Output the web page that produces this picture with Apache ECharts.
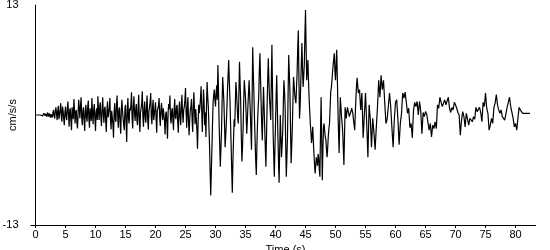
<!DOCTYPE html>
<html>
<head>
<meta charset="utf-8">
<script src="https://cdn.jsdelivr.net/npm/echarts@6/dist/echarts.min.js"></script>
<style>html,body{margin:0;padding:0;background:#fff}#c{width:550px;height:250px}</style>
</head>
<body>
<div id="c"></div>
<script>
// Part A: 0 - 54.9 s, sampled every 0.1 s (cm/s/s), one row per 5 s
const DT_A = 0.1;
const accelA = [
  0,0, 0,0, 0,0, 0,0, 0,0.05, 0.1,-0.05, -0.1,0.1, 0.2,0.0, -0.1,0.15, 0.1,-0.2,
  0.3,0.1, -0.2,0.2, 0.4,-0.3, 0.1,0.3, -0.3,0.2, 0.6,-0.1, -0.4,0.5, 0.9,0.2, -0.6,0.4, 1.1,-0.5,
  -0.3,0.6, 1.4,-0.2, -0.8,1.0, 0.5,-0.4, -1.2,0.3,

  1.0,-0.2, -0.6,0.7, 1.6,0.1, -1.4,0.5, 0.8,-0.7, -1.8,0.9, 0.4,-0.5, 1.9,0.6, -1.0,0.3, 0.6,-0.9,
  -1.6,0.2, 1.8,0.8, -0.4,1.1, 2.1,-0.3, -1.2,0.5, 0.9,-0.6, -1.9,0.4, 1.2,-0.2, -0.8,0.9, 1.7,-0.5,
  -1.5,0.8, 0.6,-0.7, 2.0,0.3, -1.1,0.6, 1.3,-0.4,

  -1.9,0.3, 0.8,-0.6, 2.2,0.5, -0.6,0.9, 1.5,-0.4, -1.3,0.6, 2.1,0.2, -0.9,0.7, 1.0,-0.8, -2.0,0.4,
  1.6,-0.3, -0.5,0.8, 2.0,-0.6, -1.7,0.5, 0.7,-1.1, -2.7,0.2, 1.4,-0.5, -0.8,1.2, 2.3,-0.2, -1.5,0.6,
  0.9,-0.9, -2.2,0.4, 1.8,0.5, -0.4,-1.2, -1.8,0.7,

  1.2,-0.9, -3.2,0.6, 2.0,-0.4, -1.0,0.8, 0.5,1.2, 2.7,-0.3, -1.6,0.9, 2.2,0.4, -0.7,0.6, 1.3,-0.6,
  -1.2,0.8, 2.4,-0.5, -2.0,0.3, 0.8,1.4, 2.8,-0.2, -1.4,0.7, 1.6,-0.4, -0.9,1.0, 2.3,-0.5, -1.7,0.4,
  0.6,1.5, 2.6,-0.3, -1.1,0.9, 1.8,-0.6, -0.8,0.7,

  1.5,-0.4, -2.1,0.5, 0.7,1.1, 2.0,-0.3, -1.3,0.6, 1.4,0.2, -0.6,0.8, 1.0,-0.7, -2.3,0.1, 0.4,-1.0,
  -2.8,0.3, 1.3,0.7, 2.3,-0.4, -1.0,0.5, 0.8,-0.6, -1.8,0.6, 1.9,-0.2, -0.5,0.9, 1.2,-0.8, -2.1,0.4,
  1.6,-0.3, -1.2,1.0, 2.4,0.2, -0.9,0.6, 1.0,1.8,

  3.2,0.4, -1.5,0.8, 2.1,-0.7, -2.4,-0.5, 0.6,1.0, 1.9,-0.6, -2.0,0.9, 2.7,0.5, -1.1,0.7, -0.4,-1.8,
  -4.0,-1.0, 1.2,0.2, 0.9,2.0, 3.4,0.6, -2.0,0.4, 3.0,1.5, -1.2,0.3, -2.6,1.0, 3.9,2.2, 1.0,-1.2,
  -3.5,-6.5, -9.5,-6.8, -4.0,-1.0, 1.5,2.4, 3.0,1.8,

  1.0,2.6, 3.5,1.8, 5.9,3.0, -1.0,-3.5, -6.1,-4.0, -2.0,1.5, 4.5,3.0, 1.5,-1.0, -3.8,-2.5, -1.0,0.8,
  3.0,4.8, 6.5,4.0, 2.0,-0.8, -3.5,-6.5, -9.2,-5.5, -3.0,-0.5, -1.4,1.2, 3.9,2.8, 1.2,-0.3, -1.0,2.5,
  6.3,3.8, 1.5,-2.5, -5.5,-3.8, -1.5,1.6, 4.1,3.0,

  2.0,0.2, -2.2,-0.8, 1.0,2.6, 4.1,2.2, 0.5,-2.0, -4.1,1.8, 8.0,5.0, 2.5,-0.5, -3.0,-5.4, -7.1,-3.6,
  -1.0,0.8, 2.1,5.2, 7.3,4.4, 1.5,-1.2, -3.0,0.5, 3.3,0.9, -1.5,-4.0, -6.1,-2.5, 1.0,4.2, 6.7,4.0,
  2.0,0.8, -0.6,4.0, 8.3,3.0, -2.0,-4.8, -7.3,-4.0,

  -1.0,2.0, 4.7,1.0, -2.5,-5.5, -8.0,-4.0, 0.0,-2.5, -5.0,-3.5, -2.0,1.2, 4.1,2.8, 1.0,-3.5, -7.3,-5.0,
  -2.5,2.5, 7.1,5.0, 3.0,-1.5, -5.7,-3.8, -1.5,1.5, 4.5,3.6, 2.5,1.8, 1.4,3.2, 5.0,7.8, 10.0,4.5,
  -0.4,1.0, 3.5,6.0, 8.5,5.5, 3.3,4.5, 6.0,9.5,

  12.4,8.0, 4.1,5.5, 6.5,4.0, 2.0,0.5, -1.0,-2.0, -3.3,-2.5, -1.4,-3.0, -4.5,-5.8, -6.9,-6.0, -5.0,-5.5,
  -6.0,-4.6, -5.0,-6.5, -7.3,-2.0, 2.1,-3.0, -7.7,-4.0, -1.4,-1.0, -2.0,-2.6, -3.0,-4.2, -5.0,-3.8, -2.5,-1.6,
  -1.0,0.8, 2.7,3.2, 4.0,5.0, 5.9,6.6, 7.3,5.2,

  4.1,6.0, 7.7,4.5, 1.0,-2.0, -4.5,-1.0, 2.1,1.0, -0.2,-1.0, -2.0,-4.0, -5.9,-2.5, 0.9,0.3, -0.4,0.4,
  0.9,0.5, 0.2,-0.2, -0.4,0.0, 0.5,0.8, 0.9,0.1, -0.6,-1.2, -1.8,0.2, 2.0,3.4, 4.4,3.5, 2.6,2.8,
  3.0,1.8, 0.6,1.6, 2.6,0.0, -2.7,-1.5, 0.0,1.2
];
// Part B: 55.0 - 82.4 s, sampled every 0.2 s (cm/s/s), one row per 5 s
const T0_B = 55.0;
const DT_B = 0.2;
const accelB = [
  2.6,-1.0,-5.0,1.2,-0.5, -3.8,-0.4,-2.0,-4.1,-1.4, 1.0,4.1,2.1,4.7,3.0, 4.1,1.5,-1.0,-0.5,1.0, 2.6,1.0,-1.5,-3.8,-0.5,
  1.5,1.8,-0.5,-3.5,-1.0, 0.2,2.6,2.0,2.7,1.5, 0.2,0.8,-1.5,-1.0,-2.7, 0.6,1.5,1.0,1.6,0.0, 1.6,0.5,-2.2,0.3,-0.2,
  0.4,0.1,0.0,-1.8,-1.0, -2.6,-1.2,-1.6,-0.8,-1.6, 1.2,0.8,2.1,1.5,1.0, 1.4,1.8,1.2,1.4,2.1, 0.8,0.3,0.9,0.6,1.5,
  1.2,0.8,0.3,0.0,-2.4, -0.6,0.4,-0.2,-1.4,0.2, -0.5,-1.2,-0.4,-0.6,-0.8, -0.2,-0.5,0.9,0.4,0.4, 0.9,0.3,-0.8,1.5,1.0,
  2.6,0.8,0.2,-1.8,-1.2, -0.4,-1.0,0.9,1.4,2.4, 1.2,0.6,0.2,0.6,-0.2, -0.3,-0.6,-0.8,0.9,1.5, 2.1,1.0,0.3,-0.4,-1.4,
  -1.0,-1.8,-0.4,0.9,0.6, 0.4,0.2,0.3,0.2,0.2, 0.2,0.3,0.2
];
// Axis tick labels
const xTicks = [0,5,10,15,20,25,30,35,40,45,50,55,60,65,70,75,80];
const yTicks = [-13, 13];
const X_MAX = 83.33;

const seriesData = accelA.map((v, i) => [+(i * DT_A).toFixed(2), v])
  .concat(accelB.map((v, i) => [+(T0_B + i * DT_B).toFixed(2), v]));

const font = 'Liberation Sans, Arial, sans-serif';
const chart = echarts.init(document.getElementById('c'), null, {renderer: 'canvas'});
chart.setOption({
  animation: false,
  backgroundColor: '#fff',
  grid: {left: 35.5, right: 14.5, top: 5, bottom: 25, containLabel: false, outerBoundsMode: 'none'},
  xAxis: {
    type: 'value', min: 0, max: X_MAX,
    name: 'Time (s)', nameLocation: 'middle', nameGap: 19,
    nameTextStyle: {color: '#000', fontFamily: font, fontSize: 11},
    axisLine: {onZero: false, lineStyle: {color: '#000', width: 1}},
    axisTick: {show: true, length: 3, inside: false, customValues: xTicks, lineStyle: {color: '#000'}},
    axisLabel: {customValues: xTicks, color: '#000', fontFamily: font, fontSize: 11, margin: 4},
    splitLine: {show: false}
  },
  yAxis: {
    type: 'value', min: -13, max: 13,
    name: 'cm/s/s', nameLocation: 'middle', nameGap: 17, nameRotate: 90, nameMoveOverlap: false,
    nameTextStyle: {color: '#000', fontFamily: font, fontSize: 11},
    axisLine: {show: true, lineStyle: {color: '#000', width: 1}},
    axisTick: {show: true, length: 5, customValues: [-13], lineStyle: {color: '#000'}},
    axisLabel: {customValues: yTicks, color: '#000', fontFamily: font, fontSize: 11, margin: 17},
    splitLine: {show: false}
  },
  series: [{
    type: 'line', data: seriesData, showSymbol: false, symbol: 'none',
    sampling: null, smooth: false,
    lineStyle: {color: '#000', width: 1.2},
    silent: true
  }]
});
</script>
</body>
</html>
